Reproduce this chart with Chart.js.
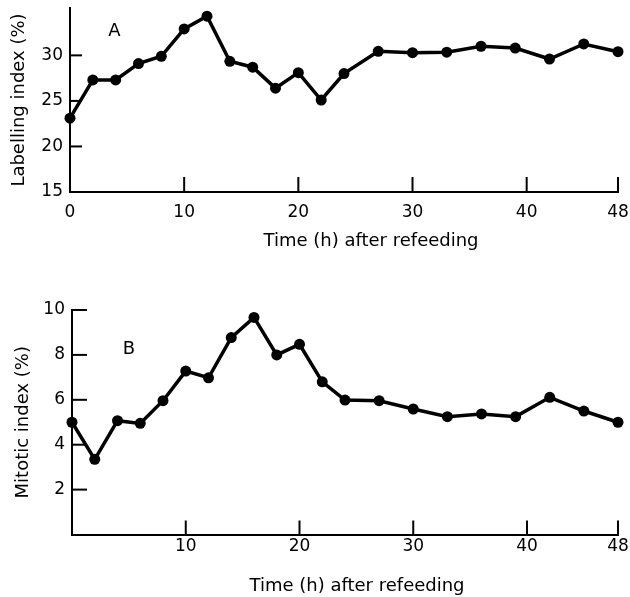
<!DOCTYPE html>
<html><head><meta charset="utf-8">
<script src="https://cdn.jsdelivr.net/npm/chart.js@4"></script>
<style>
html,body{margin:0;padding:0;background:#fff;width:630px;height:597px;overflow:hidden}
#a{position:absolute;left:0;top:0}
#b{position:absolute;left:0;top:290px}
</style></head><body>
<canvas id="a" width="630" height="260"></canvas>
<canvas id="b" width="630" height="307"></canvas>
<script>
const hoursA = [0,2,4,6,8,10,12,14,16,18,20,22,24,27,30,33,36,39,42,45,48];
const labellingIndex = [23.1,27.3,27.3,29.1,29.9,32.9,34.3,29.35,28.7,26.4,28.1,25.1,28.0,30.45,30.3,30.35,31.0,30.8,29.6,31.25,30.4];
const hoursB = [0,2,4,6,8,10,12,14,16,18,20,22,24,27,30,33,36,39,42,45,48];
const mitoticIndex = [5.0,3.35,5.07,4.95,5.96,7.28,6.98,8.77,9.67,8.0,8.47,6.8,5.99,5.96,5.59,5.25,5.37,5.25,6.11,5.5,5.0];
const xTicksA = [0,10,20,30,40,48];
const yTicksA = [15,20,25,30];
const xTicksB = [10,20,30,40,48];
const yTicksB = [2,4,6,8,10];
const xMarksA = [10,20,30,40,48];
const yMarksA = [20,25,30];
const xMarksB = [10,20,30,40,48];
const yMarksB = [2,4,6,8,10];
const xTitle = 'Time (h) after refeeding';
const yTitleA = 'Labelling index (%)';
const yTitleB = 'Mitotic index (%)';

const FONT = '"DejaVu Sans", sans-serif';
const INK = '#000';

function makeChart(id, cfg) {
  const pts = cfg.x.map((h, i) => ({x: h, y: cfg.y[i]}));
  const decor = {
    id: 'decor' + id,
    afterDraw(chart) {
      const ctx = chart.ctx, xs = chart.scales.x, ys = chart.scales.y;
      ctx.save();
      ctx.strokeStyle = INK; ctx.lineWidth = 2;
      cfg.xMarks.forEach(v => {
        const px = xs.getPixelForValue(v);
        ctx.beginPath(); ctx.moveTo(px, ys.bottom); ctx.lineTo(px, ys.bottom - cfg.xMarkLen); ctx.stroke();
      });
      cfg.yMarks.forEach(v => {
        const py = ys.getPixelForValue(v);
        ctx.beginPath(); ctx.moveTo(xs.left, py); ctx.lineTo(xs.left + cfg.yMarkLen, py); ctx.stroke();
      });
      ctx.fillStyle = INK;
      ctx.font = '18px ' + FONT;
      ctx.textAlign = 'center'; ctx.textBaseline = 'middle';
      ctx.fillText(cfg.panel, xs.getPixelForValue(cfg.panelAt[0]), ys.getPixelForValue(cfg.panelAt[1]));
      ctx.fillText(xTitle, cfg.titleX, cfg.titleY);
      ctx.restore();
    }
  };
  return new Chart(document.getElementById(id), {
    type: 'line',
    data: { datasets: [{
      data: pts, borderColor: INK, borderWidth: 3.5, tension: 0,
      pointRadius: 5.5, pointBackgroundColor: INK, pointBorderWidth: 0, pointHoverRadius: 5.5,
      clip: false, fill: false
    }]},
    options: {
      responsive: false, animation: false, events: [],
      layout: { padding: { top: cfg.padTop, right: 12, left: 0, bottom: 0 } },
      plugins: { legend: { display: false }, tooltip: { enabled: false } },
      scales: {
        x: {
          type: 'linear', min: 0, max: 48,
          afterBuildTicks: s => { s.ticks = cfg.xTicks.map(v => ({value: v})); },
          afterFit: s => { s.height = cfg.xHeight; s.paddingLeft = 0; s.paddingRight = 0; },
          grid: { display: true, drawOnChartArea: false, drawTicks: false },
          border: { display: true, color: INK, width: 2 },
          ticks: { color: INK, padding: cfg.xPad, font: { family: FONT, size: cfg.tickSize }, maxRotation: 0, autoSkip: false },
          title: { display: false }
        },
        y: {
          min: cfg.ymin, max: cfg.ymax,
          afterBuildTicks: s => { s.ticks = cfg.yTicks.map(v => ({value: v})); },
          afterFit: s => { s.width = cfg.yWidth; s.paddingTop = 0; s.paddingBottom = 0; },
          grid: { display: true, drawOnChartArea: false, drawTicks: false },
          border: { display: true, color: INK, width: 2 },
          ticks: { color: INK, padding: 7, font: { family: FONT, size: cfg.tickSize } },
          title: { display: true, text: cfg.yTitle, color: INK, font: { family: FONT, size: 18 }, padding: { top: cfg.yTitlePad, bottom: 0 } }
        }
      }
    },
    plugins: [decor]
  });
}

makeChart('a', {
  x: hoursA, y: labellingIndex, xTicks: xTicksA, yTicks: yTicksA, xMarks: xMarksA, yMarks: yMarksA,
  ymin: 15, ymax: 35.2, padTop: 8, xHeight: 68, yWidth: 70, xPad: 10, tickSize: 17,
  xMarkLen: 15, yMarkLen: 12, panel: 'A', panelAt: [3.9, 32.6], yTitle: yTitleA, yTitlePad: 9,
  titleX: 371, titleY: 241
});
makeChart('b', {
  x: hoursB, y: mitoticIndex, xTicks: xTicksB, yTicks: yTicksB, xMarks: xMarksB, yMarks: yMarksB,
  ymin: 0, ymax: 10, padTop: 20, xHeight: 62.5, yWidth: 72, xPad: 2, tickSize: 17,
  xMarkLen: 14, yMarkLen: 15, panel: 'B', panelAt: [5.0, 8.25], yTitle: yTitleB, yTitlePad: 13,
  titleX: 357, titleY: 296
});
</script>
</body></html>
